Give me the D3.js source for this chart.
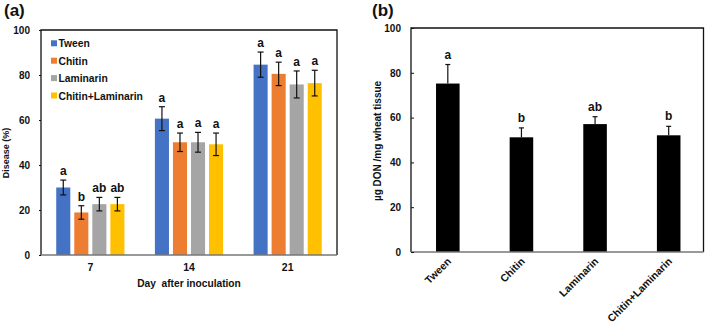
<!DOCTYPE html>
<html><head><meta charset="utf-8">
<script src="https://cdn.jsdelivr.net/npm/d3@7"></script>
<style>body{margin:0;background:#fff}svg{display:block}text{font-family:"Liberation Sans",Arial,sans-serif;font-weight:bold;fill:#111}</style>
</head><body><svg id="c" width="709" height="325"></svg>
<script>
// Panel (a) data
const days = ["7", "14", "21"];
const treatments = ["Tween", "Chitin", "Laminarin", "Chitin+Laminarin"];
const colors = ["#4472C4", "#ED7D31", "#A5A5A5", "#FFC000"];
const tweenA = [30.0, 60.6, 84.6];
const chitinA = [18.9, 50.1, 80.5];
const laminarinA = [22.6, 50.1, 75.8];
const chitinLamA = [22.6, 49.2, 76.4];
const tweenErrA = [3.3, 5.3, 5.6];
const chitinErrA = [3.0, 4.1, 5.2];
const laminarinErrA = [3.0, 4.4, 6.0];
const chitinLamErrA = [3.0, 5.0, 5.7];
const tweenLetA = ["a", "a", "a"];
const chitinLetA = ["b", "a", "a"];
const laminarinLetA = ["ab", "a", "a"];
const chitinLamLetA = ["ab", "a", "a"];
const yTicksA = [0, 20, 40, 60, 80, 100];
// Panel (b) data
const donValues = [75.2, 51.2, 57.1, 52.1];
const donErr = [8.5, 4.2, 3.3, 4.0];
const donLetters = ["a", "b", "ab", "b"];
const yTicksB = [0, 20, 40, 60, 80, 100];

const svg = d3.select("#c");

// ---------- Panel (a) ----------
const aL = 41, aR = 337, aT = 30, aB = 255;
const xA = d3.scaleBand().domain(days).range([aL, aR]);
const yA = d3.scaleLinear().domain([0, 100]).range([aB, aT]);
const sub = d3.scaleBand().domain(treatments).range([-35, 35]).paddingInner(0.22).paddingOuter(0.05);
const seriesA = [tweenA, chitinA, laminarinA, chitinLamA];
const errsA = [tweenErrA, chitinErrA, laminarinErrA, chitinLamErrA];
const letsA = [tweenLetA, chitinLetA, laminarinLetA, chitinLamLetA];

const gA = svg.append("g");
const rowsA = [];
treatments.forEach((t, i) => days.forEach((d, j) => rowsA.push({t, i, d, v: seriesA[i][j], e: errsA[i][j], l: letsA[i][j]})));
gA.selectAll("rect.bar").data(rowsA).join("rect")
  .attr("x", r => xA(r.d) + xA.bandwidth()/2 + sub(r.t))
  .attr("width", sub.bandwidth())
  .attr("y", r => yA(r.v)).attr("height", r => yA(0) - yA(r.v))
  .attr("fill", r => colors[r.i]);
const cx = r => xA(r.d) + xA.bandwidth()/2 + sub(r.t) + sub.bandwidth()/2;
gA.selectAll("line.eb").data(rowsA).join("line")
  .attr("x1", cx).attr("x2", cx).attr("y1", r => yA(r.v + r.e)).attr("y2", r => yA(r.v - r.e))
  .attr("stroke", "#111").attr("stroke-width", 1.2);
["+", "-"].forEach(s => {
  gA.selectAll("line.cap" + (s === "+" ? "u" : "d")).data(rowsA).join("line")
    .attr("x1", r => cx(r) - 3).attr("x2", r => cx(r) + 3)
    .attr("y1", r => yA(s === "+" ? r.v + r.e : r.v - r.e)).attr("y2", r => yA(s === "+" ? r.v + r.e : r.v - r.e))
    .attr("stroke", "#111").attr("stroke-width", 1.2);
});
gA.selectAll("text.let").data(rowsA).join("text")
  .attr("x", cx).attr("y", r => yA(r.v + r.e) - 5)
  .attr("text-anchor", "middle").attr("font-size", 12).text(r => r.l);

// frame
gA.append("path").attr("d", `M${aL},${aB}V${aT}H${aR}V${aB}`).attr("fill", "none").attr("stroke", "#111").attr("stroke-width", 1.3);
gA.append("line").attr("x1", aL).attr("x2", aR).attr("y1", aB).attr("y2", aB).attr("stroke", "#777").attr("stroke-width", 1.6);
// y axis
const axA = gA.append("g").attr("transform", `translate(${aL},0)`)
  .call(d3.axisLeft(yA).tickValues(yTicksA).tickSize(2).tickPadding(9));
axA.select(".domain").remove();
axA.selectAll("text").attr("font-size", 10).attr("font-family", "Liberation Sans, Arial, sans-serif").attr("font-weight", "bold").attr("fill", "#111");
axA.selectAll("line").attr("stroke", "#111");
// x labels
gA.selectAll("text.day").data(days).join("text")
  .attr("x", d => xA(d) + xA.bandwidth()/2).attr("y", 271)
  .attr("text-anchor", "middle").attr("font-size", 10.5).text(d => d);
gA.append("text").attr("x", 189).attr("y", 287).attr("text-anchor", "middle").attr("font-size", 10.2)
  .attr("xml:space", "preserve").style("white-space", "pre").text("Day  after inoculation");
gA.append("text").attr("transform", "translate(9,153) rotate(-90)").attr("text-anchor", "middle").attr("font-size", 9).text("Disease (%)");
// legend
const leg = gA.selectAll("g.leg").data(treatments).join("g").attr("transform", (d, i) => `translate(51,${43.3 + i*17.4})`);
leg.append("rect").attr("x", 0).attr("y", -3).attr("width", 6).attr("height", 6).attr("fill", (d, i) => colors[i]);
leg.append("text").attr("x", 7.5).attr("y", 4).attr("font-size", 10.3).text(d => d);
svg.append("text").attr("x", 4).attr("y", 16).attr("font-size", 17).text("(a)");

// ---------- Panel (b) ----------
const bL = 411, bR = 703.5, bT = 28, bB = 252;
const xB = d3.scaleBand().domain(treatments).range([bL, bR + 2]).paddingInner(0.68).paddingOuter(0.34);
const yB = d3.scaleLinear().domain([0, 100]).range([bB, bT]);
const rowsB = treatments.map((t, i) => ({t, v: donValues[i], e: donErr[i], l: donLetters[i]}));
const gB = svg.append("g");
gB.selectAll("rect").data(rowsB).join("rect")
  .attr("x", r => xB(r.t)).attr("width", xB.bandwidth())
  .attr("y", r => yB(r.v)).attr("height", r => yB(0) - yB(r.v)).attr("fill", "#000");
const cxB = r => xB(r.t) + xB.bandwidth()/2;
gB.selectAll("line.eb").data(rowsB).join("line")
  .attr("x1", cxB).attr("x2", cxB).attr("y1", r => yB(r.v)).attr("y2", r => yB(r.v + r.e))
  .attr("stroke", "#111").attr("stroke-width", 1.2);
gB.selectAll("line.cap").data(rowsB).join("line")
  .attr("x1", r => cxB(r) - 2.5).attr("x2", r => cxB(r) + 2.5)
  .attr("y1", r => yB(r.v + r.e)).attr("y2", r => yB(r.v + r.e))
  .attr("stroke", "#111").attr("stroke-width", 1.2);
gB.selectAll("text.let").data(rowsB).join("text")
  .attr("x", cxB).attr("y", r => yB(r.v + r.e) - 6)
  .attr("text-anchor", "middle").attr("font-size", 12).text(r => r.l);
gB.append("path").attr("d", `M${bL},${bB}V${bT}H${bR}V${bB}`).attr("fill", "none").attr("stroke", "#111").attr("stroke-width", 1.3);
gB.append("line").attr("x1", bL).attr("x2", bR).attr("y1", bB).attr("y2", bB).attr("stroke", "#777").attr("stroke-width", 1.6);
const axB = gB.append("g").attr("transform", `translate(${bL},0)`)
  .call(d3.axisLeft(yB).tickValues(yTicksB).tickSizeInner(-3).tickSizeOuter(0).tickPadding(10));
axB.select(".domain").remove();
axB.selectAll("text").attr("font-size", 10).attr("font-family", "Liberation Sans, Arial, sans-serif").attr("font-weight", "bold").attr("fill", "#111");
axB.selectAll("line").attr("stroke", "#111");
gB.selectAll("text.cat").data(treatments).join("text")
  .attr("transform", d => `translate(${xB(d) + xB.bandwidth()/2 + 4},${bB + 10}) rotate(-45)`)
  .attr("text-anchor", "end").attr("font-size", 10.5).text(d => d);
gB.append("text").attr("transform", "translate(381,141) rotate(-90)").attr("text-anchor", "middle").attr("font-size", 10).attr("font-weight", "normal").text("µg DON /mg wheat tissue");
svg.append("text").attr("x", 372).attr("y", 16).attr("font-size", 17).text("(b)");
</script></body></html>
